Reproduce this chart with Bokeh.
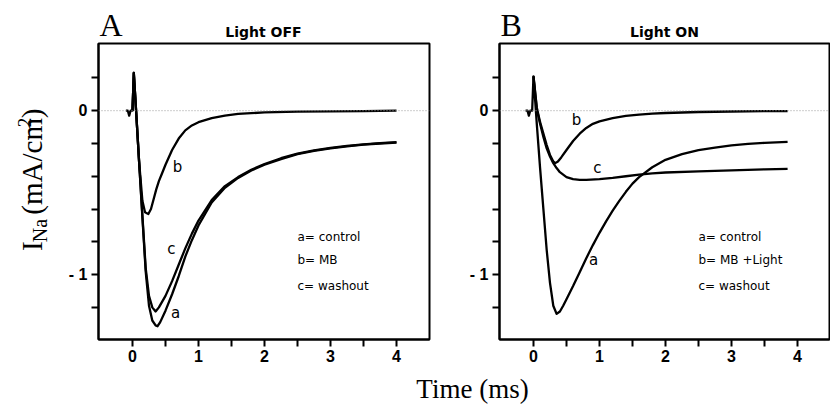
import math
from bokeh.plotting import figure
from bokeh.models import Range1d, FixedTicker, Label, Span
from bokeh.core.properties import value
from bokeh.layouts import row, column
from bokeh.embed import file_html
from bokeh.resources import INLINE

# ---------------- data ----------------
# Panel A  (Light OFF)
a_A_t = [-0.10, -0.07, -0.05, -0.03, 0.00, 0.02, 0.05, 0.10, 0.15, 0.20, 0.25, 0.30, 0.35, 0.38,
         0.42, 0.50, 0.60, 0.70, 0.80, 0.90, 1.00, 1.20, 1.40, 1.60, 1.80, 2.00, 2.25, 2.50,
         2.75, 3.00, 3.25, 3.50, 3.75, 4.00]
a_A_y = [0.0, 0.0, -0.03, 0.0, 0.0, 0.23, 0.03, -0.31, -0.65, -0.98, -1.19, -1.28, -1.31, -1.315,
         -1.29, -1.22, -1.12, -1.01, -0.89, -0.79, -0.70, -0.56, -0.47, -0.41, -0.365, -0.33, -0.295,
         -0.265, -0.245, -0.23, -0.218, -0.207, -0.20, -0.195]
b_A_t = [0.00, 0.02, 0.05, 0.10, 0.15, 0.19, 0.24, 0.28, 0.32, 0.36, 0.40, 0.45, 0.50, 0.60, 0.70,
         0.80, 0.90, 1.00, 1.20, 1.40, 1.60, 1.80, 2.00, 2.50, 3.00, 3.50, 4.00]
b_A_y = [0.0, 0.23, 0.03, -0.31, -0.55, -0.62, -0.63, -0.60, -0.54, -0.48, -0.43, -0.38, -0.33,
         -0.24, -0.17, -0.12, -0.09, -0.07, -0.045, -0.03, -0.02, -0.015, -0.01, -0.006, -0.004,
         -0.002, 0.0]
c_A_t = [0.00, 0.02, 0.05, 0.10, 0.15, 0.20, 0.25, 0.30, 0.35, 0.40, 0.50, 0.60, 0.70, 0.80, 0.90,
         1.00, 1.20, 1.40, 1.60, 1.80, 2.00, 2.25, 2.50, 2.75, 3.00, 3.25, 3.50, 3.75, 4.00]
c_A_y = [0.0, 0.23, 0.03, -0.31, -0.64, -0.96, -1.13, -1.20, -1.225, -1.20, -1.13, -1.04, -0.94,
         -0.84, -0.75, -0.67, -0.545, -0.46, -0.405, -0.36, -0.325, -0.29, -0.262, -0.242, -0.227,
         -0.215, -0.205, -0.198, -0.192]

# Panel B  (Light ON)
a_B_t = [-0.12, -0.09, -0.07, -0.05, -0.02, 0.00, 0.05, 0.10, 0.15, 0.20, 0.25, 0.30, 0.35, 0.40,
         0.45, 0.50, 0.60, 0.70, 0.80, 0.90, 1.00, 1.10, 1.20, 1.30, 1.40, 1.50, 1.60, 1.80, 2.00,
         2.25, 2.50, 2.75, 3.00, 3.25, 3.50, 3.85]
a_B_y = [0.0, 0.0, -0.03, 0.0, 0.0, 0.21, -0.08, -0.35, -0.60, -0.85, -1.05, -1.19, -1.24, -1.225,
         -1.19, -1.15, -1.07, -0.985, -0.90, -0.82, -0.745, -0.675, -0.61, -0.55, -0.495, -0.445,
         -0.405, -0.345, -0.30, -0.265, -0.24, -0.225, -0.212, -0.203, -0.196, -0.19]
b_B_t = [0.00, 0.05, 0.10, 0.15, 0.20, 0.25, 0.30, 0.33, 0.37, 0.42, 0.50, 0.60, 0.70, 0.80, 0.90,
         1.00, 1.20, 1.40, 1.60, 1.80, 2.00, 2.50, 3.00, 3.50, 3.85]
b_B_y = [0.21, 0.02, -0.07, -0.14, -0.21, -0.27, -0.31, -0.32, -0.31, -0.285, -0.24, -0.185, -0.14,
         -0.105, -0.08, -0.065, -0.045, -0.032, -0.024, -0.018, -0.014, -0.008, -0.005, -0.003, -0.002]
c_B_t = [0.00, 0.05, 0.10, 0.15, 0.20, 0.25, 0.30, 0.35, 0.40, 0.50, 0.60, 0.70, 0.80, 1.00, 1.20,
         1.40, 1.60, 1.80, 2.00, 2.50, 3.00, 3.50, 3.85]
c_B_y = [0.21, 0.01, -0.08, -0.16, -0.23, -0.28, -0.32, -0.35, -0.375, -0.405, -0.418, -0.422,
         -0.422, -0.418, -0.41, -0.40, -0.39, -0.382, -0.377, -0.37, -0.364, -0.358, -0.355]

# ticks and texts
x_major = [0, 1, 2, 3, 4]
x_minor = [0.5, 1.5, 2.5, 3.5]
y_major = [-1, 0]
y_major_labels = ["- 1", "0"]
y_minor = [-1.2, -0.8, -0.6, -0.4, -0.2, 0.2]
panel_letters = ["A", "B"]
panel_titles = ["Light OFF", "Light ON"]
legend_A = ["a= control", "b= MB", "c= washout"]
legend_B = ["a= control", "b= MB +Light", "c= washout"]
curve_names = ["a", "b", "c"]
y_title_parts = ["I", "Na", "(mA/cm", "2", ")"]
x_title = "Time (ms)"

SANS = "DejaVu Sans"
TICKFONT = "Liberation Sans"
SERIF = "Liberation Serif"

XR = (-0.515, 4.5)
YR = (-1.396, 0.41)
TOP_H = 42
MID_H = 328
BOT_H = 34
LEFT_W = 55


def make_panel(width, border_left, border_right, x_end):
    p = figure(width=width, height=MID_H, x_range=Range1d(XR[0], x_end), y_range=Range1d(*YR),
               output_backend="svg", toolbar_location=None,
               min_border_left=border_left, min_border_right=border_right,
               min_border_top=1, min_border_bottom=31)
    p.grid.visible = False
    p.outline_line_color = "black"
    p.outline_line_width = 2
    p.xaxis.ticker = FixedTicker(ticks=x_major, minor_ticks=x_minor)
    p.yaxis.ticker = FixedTicker(ticks=y_major, minor_ticks=y_minor)
    p.yaxis.major_label_overrides = {v: s for v, s in zip(y_major, y_major_labels)}
    for ax in (p.xaxis, p.yaxis):
        ax.axis_line_width = 2
        ax.axis_line_color = "black"
        ax.major_tick_in = 0
        ax.major_tick_out = 7
        ax.minor_tick_in = 0
        ax.minor_tick_out = 7
        ax.major_tick_line_width = 2
        ax.minor_tick_line_width = 2
        ax.major_label_text_font = TICKFONT
        ax.major_label_text_font_style = "bold"
        ax.major_label_text_font_size = "16px"
        ax.major_label_text_color = "black"
    p.xaxis.major_label_standoff = 3
    p.yaxis.major_label_standoff = 4
    p.add_layout(Span(location=0, dimension="width", line_color="#9a9a9a",
                      line_dash="1 2", line_width=1))
    return p


def strip(w, h, x0, y0):
    """Axis-less figure whose data coordinates are (page x, -page y)."""
    f = figure(width=w, height=h, x_range=Range1d(x0, x0 + w), y_range=Range1d(-(y0 + h), -y0),
               output_backend="svg", toolbar_location=None,
               x_axis_location=None, y_axis_location=None,
               min_border_left=0, min_border_right=0, min_border_top=0, min_border_bottom=0)
    f.grid.visible = False
    f.outline_line_color = None
    return f


pA = make_panel(440 - LEFT_W, 98 - LEFT_W, 11, XR[1])
pB = make_panel(390, 59, 1, 4.485)


def converters(x0_px):
    return (lambda px: (px - x0_px) / 66.0), (lambda py: (110 - py) / 164.0)


def add_traces(p, series):
    for t, y in series:
        p.line(t, y, line_color="black", line_width=2.3, line_join="round")


add_traces(pA, [(a_A_t, a_A_y), (b_A_t, b_A_y), (c_A_t, c_A_y)])
add_traces(pB, [(a_B_t, a_B_y), (b_B_t, b_B_y), (c_B_t, c_B_y)])


def lab(p, x, y, text, size="12px"):
    p.add_layout(Label(x=x, y=y, text=text, text_font=SANS, text_font_size=size,
                       text_align="left" if len(text) > 1 else "center",
                       text_baseline="middle", text_color="black"))


def decorate(p, x0_px, legend, curve_pos):
    fx, fy = converters(x0_px)
    for txt, py in zip(legend, [236, 259, 285]):
        lab(p, 2.5, fy(py), txt, size="12px")
    for name, (px, py) in zip(curve_names, curve_pos):
        lab(p, fx(px), fy(py), name, size="15px")


decorate(pA, 132, legend_A, [(175, 312), (177, 166), (171, 248)])
decorate(pB, 533, legend_B, [(593, 259), (576, 119), (597, 167)])

# ---- top strip: panel letters and titles
top = strip(830, TOP_H, 0, 0)
for letter, lx in zip(panel_letters, [99, 500]):
    top.text(x=[lx], y=[-24.2], text=[letter], text_font=value(SERIF), text_font_size="32px",
             text_align="left", text_baseline="middle", text_color="black")
for title, cx in zip(panel_titles, [263, 664]):
    top.text(x=[cx], y=[-31], text=[title], text_font=value(SANS), text_font_size="14px",
             text_font_style="bold", text_align="center", text_baseline="middle",
             text_color="black")

# ---- left strip: rotated y-axis title, built from pieces
left = strip(LEFT_W, MID_H, 0, TOP_H)
rot = math.pi / 2
parts_pos = [(31.3, 272.0, "29px"), (39.4, 262.3, "20px"), (31.3, 231.7, "29px"),
             (23.6, 134.9, "19px"), (31.3, 124.9, "29px")]
for txt, (px, py, fs) in zip(y_title_parts, parts_pos):
    left.text(x=[px], y=[-py], text=[txt], angle=rot, text_font=value(SERIF),
              text_font_size=fs, text_align="left", text_baseline="middle", text_color="black")

# ---- bottom strip: shared x-axis title
bot = strip(830, BOT_H, 0, TOP_H + MID_H)
bot.text(x=[472], y=[-388], text=[x_title], text_font=value(SERIF), text_font_size="27px",
         text_align="center", text_baseline="middle", text_color="black")

layout = column(top, row(left, pA, pB), bot)
open("out.html", "w").write(file_html(layout, INLINE))
